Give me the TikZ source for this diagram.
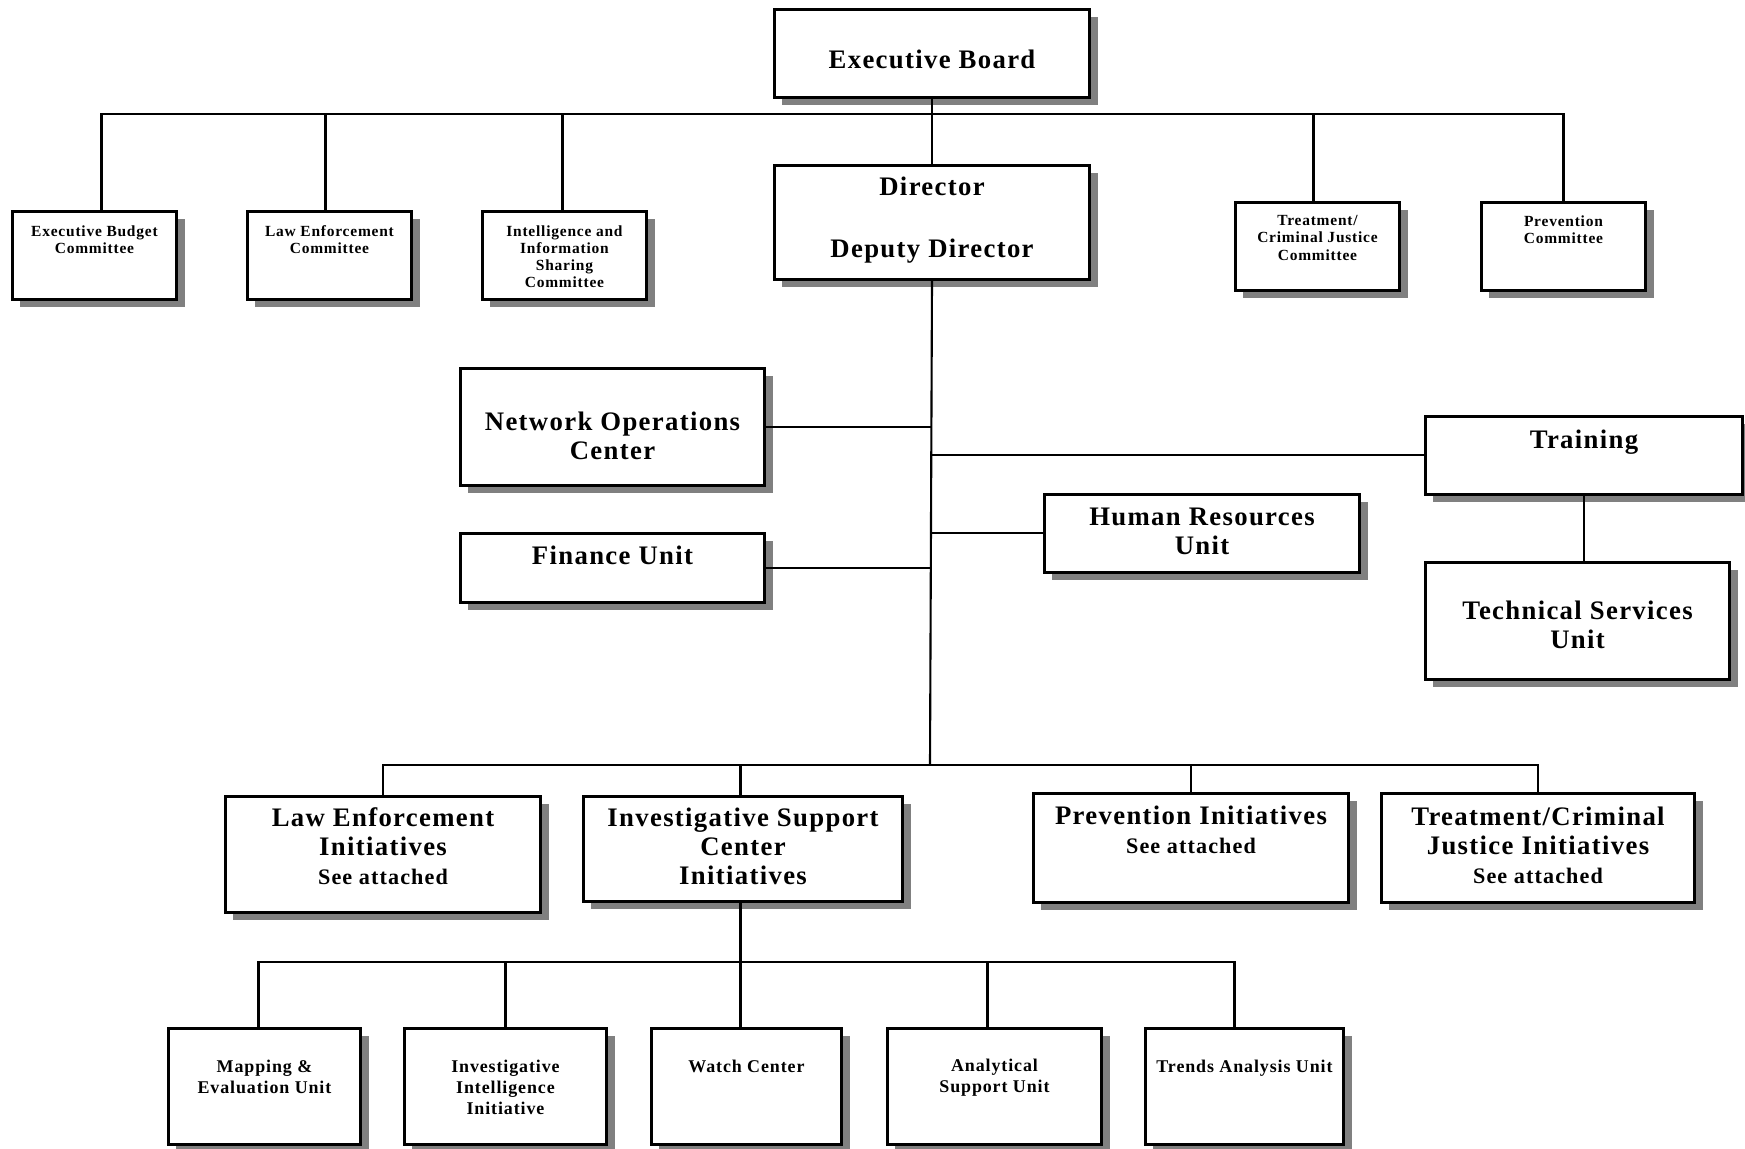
\documentclass[tikz,border=0pt]{standalone}
\usepackage{fontspec}
\setmainfont{Liberation Serif}[LetterSpace=5]
\usetikzlibrary{shadows}
\newcommand\seeatt{{\fontsize{6.3}{7.6}\selectfont See attached}}

\begin{document}
\begin{tikzpicture}[
x=0.01cm, y=-0.01cm,
unit/.style={draw, line width=0.8pt, fill=white, anchor=north west, inner sep=0pt,
  drop shadow={shadow xshift=0.08cm, shadow yshift=-0.08cm, fill=black!50, opacity=1}},
com/.style={unit, minimum width=1.64cm, minimum height=0.88cm},
leaf/.style={unit, minimum height=1.16cm},
txt/.style={anchor=north, align=center, inner sep=0pt, font=\bfseries\fontsize{7.6}{8.25}\selectfont},
comtxt/.style={txt, font=\bfseries\fontsize{4.4}{4.85}\selectfont},
leaftxt/.style={txt, font=\bfseries\fontsize{5.1}{6}\selectfont},
link/.style={line width=0.6pt}
]
\useasboundingbox (0,0) rectangle (1745,1148);

\node[unit, minimum width=3.15cm, minimum height=0.88cm, label={[txt, name=ebt, yshift=-0.41cm]north:Executive Board}] (eb) at (773,8) {};
\node[unit, minimum width=3.15cm, minimum height=1.14cm, label={[txt, name=dirt, yshift=-0.12cm]north:Director\\[9.5pt]Deputy Director}] (dir) at (773,164) {};

\node[com, label={[comtxt, name=ebct, yshift=-0.15cm]north:Executive Budget\\Committee}] (ebc) at (11,210) {};
\node[com, label={[comtxt, name=lect, yshift=-0.15cm]north:Law Enforcement\\Committee}] (lec) at (246,210) {};
\node[com, label={[comtxt, name=isct, yshift=-0.15cm]north:Intelligence and\\Information\\Sharing\\Committee}] (isc) at (481,210) {};
\node[com, label={[comtxt, name=tcct, yshift=-0.14cm]north:Treatment/\\Criminal Justice\\Committee}] (tcc) at (1234,201) {};
\node[com, label={[comtxt, name=pct, yshift=-0.14cm]north:Prevention\\Committee}] (pc) at (1480,201) {};

\node[unit, minimum width=3.04cm, minimum height=1.17cm, label={[txt, name=noct, yshift=-0.44cm]north:Network Operations\\Center}] (noc) at (459,367) {};
\node[unit, minimum width=3.04cm, minimum height=0.69cm, label={[txt, name=fint, yshift=-0.13cm]north:Finance Unit}] (fin) at (459,532) {};
\node[unit, minimum width=3.17cm, minimum height=0.78cm, label={[txt, name=trt, yshift=-0.14cm]north:Training}] (tr) at (1424,415) {};
\node[unit, minimum width=3.15cm, minimum height=0.78cm, label={[txt, name=hrt, yshift=-0.14cm]north:Human Resources\\Unit}] (hr) at (1043,493) {};
\node[unit, minimum width=3.04cm, minimum height=1.17cm, label={[txt, name=tsut, yshift=-0.39cm]north:Technical Services\\Unit}] (tsu) at (1424,561) {};

\node[unit, minimum width=3.15cm, minimum height=1.16cm, label={[txt, name=leit, yshift=-0.12cm]north:Law Enforcement\\Initiatives\\\seeatt}] (lei) at (224,795) {};
\node[unit, minimum width=3.19cm, minimum height=1.05cm, label={[txt, name=iscit, yshift=-0.12cm]north:Investigative Support\\Center\\Initiatives}] (isci) at (582,795) {};
\node[unit, minimum width=3.15cm, minimum height=1.09cm, label={[txt, name=pit, yshift=-0.13cm]north:Prevention Initiatives\\\seeatt}] (pi) at (1032,792) {};
\node[unit, minimum width=3.13cm, minimum height=1.09cm, label={[txt, name=tcit, yshift=-0.14cm]north:Treatment/Criminal\\Justice Initiatives\\\seeatt}] (tci) at (1380,792) {};

\node[leaf, minimum width=1.92cm, label={[leaftxt, name=met, yshift=-0.32cm]north:Mapping \&\\Evaluation Unit}] (me) at (167,1027) {};
\node[leaf, minimum width=2.02cm, label={[leaftxt, name=iiit, yshift=-0.32cm]north:Investigative\\Intelligence\\Initiative}] (iii) at (403,1027) {};
\node[leaf, minimum width=1.90cm, label={[leaftxt, name=wct, yshift=-0.32cm]north:Watch Center}] (wc) at (650,1027) {};
\node[leaf, minimum width=2.14cm, label={[leaftxt, name=asut, yshift=-0.31cm]north:Analytical\\Support Unit}] (asu) at (886,1027) {};
\node[leaf, minimum width=1.98cm, label={[leaftxt, name=taut, yshift=-0.32cm]north:Trends Analysis Unit}] (tau) at (1144,1027) {};

\coordinate (bus) at (930,114);
\coordinate (mid) at (930,765);

\draw[link] (eb.south) -- (dir.north);
\draw[link] ([xshift=0.07cm]ebc.north) |- (bus) -| (pc.north);
\foreach \n/\s in {lec/-0.04,isc/-0.02,tcc/-0.04}
  \draw[link] ([xshift=\s cm]\n.north) coordinate (t) -- (t |- bus);
\draw[link] (dir.south) -- (mid);
\draw[link] (noc.east) -- (noc.east -| dir.south);
\draw[link] (fin.east) -- (fin.east -| dir.south);
\draw[link] (tr.west) -- (tr.west -| dir.south);
\draw[link] (hr.west) -- (hr.west -| dir.south);
\draw[link] (tr.south) -- (tr.south |- tsu.north);
\draw[link] (lei.north) |- (mid) -| (tci.north);
\draw[link] ([xshift=-0.025cm]isci.north) coordinate (t) -- (t |- mid);
\draw[link] (pi.north) -- (pi.north |- mid);
\draw[link] ([xshift=-0.025cm]isci.south) -- ++(0,59) coordinate (low);
\draw[link] ([xshift=-0.06cm]me.north) |- (low) -| ([xshift=-0.1cm]tau.north);
\foreach \n/\s in {iii/0,wc/-0.06,asu/-0.07}
  \draw[link] ([xshift=\s cm]\n.north) coordinate (t) -- (t |- low);

\end{tikzpicture}
\end{document}
